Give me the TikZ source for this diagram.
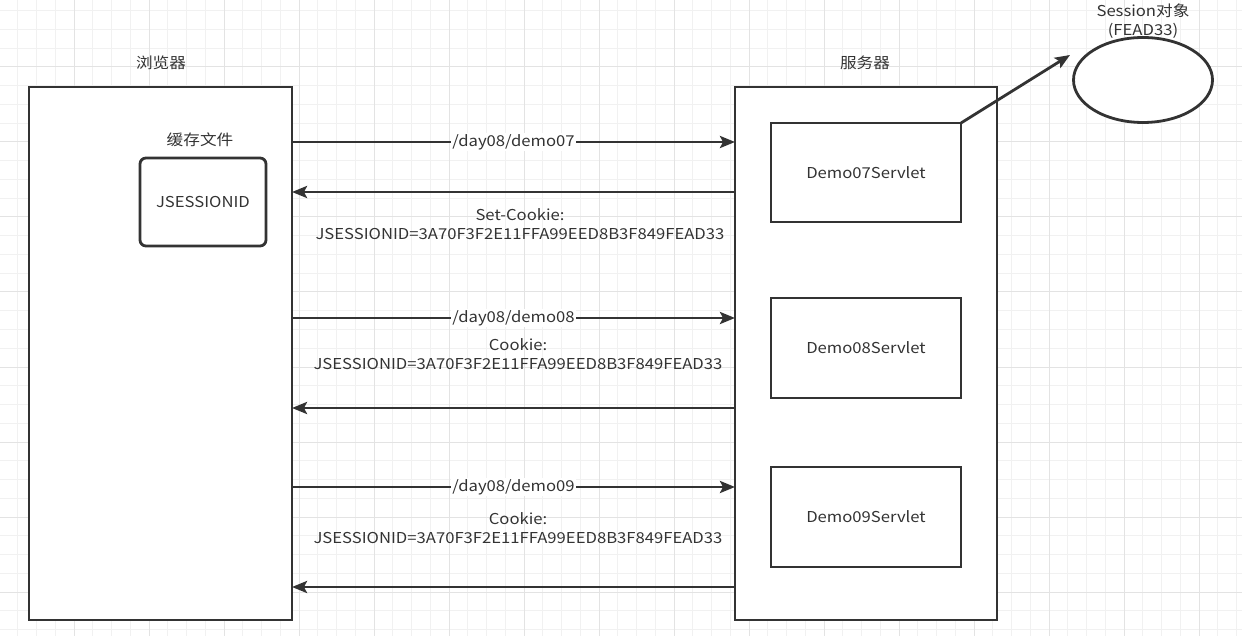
\documentclass[tikz,border=0pt]{standalone}
\usepackage{fontspec}
\newfontfamily\cjk[FakeStretch=1.11]{Noto Sans CJK SC}
\usetikzlibrary{arrows.meta,shapes.geometric}
\definecolor{ink}{HTML}{333333}
\definecolor{gminor}{HTML}{F1F1F1}
\definecolor{gmajor}{HTML}{E3E3E3}
\begin{document}
\begin{tikzpicture}[x=1pt,y=-1pt,
  box/.style={draw=ink,line width=2.8pt,fill=white,inner sep=0pt,outer sep=0pt},
  lbl/.style={font=\cjk\fontsize{15}{19}\selectfont,text=ink,inner sep=1pt,align=center},
  conn/.style={draw=ink,line width=2.8pt,-{Stealth[length=15pt,width=12pt,inset=3pt]}},
  onl/.style={lbl,fill=white,inner sep=1pt}
]
\useasboundingbox (0,0) rectangle (1242,636);
\fill[white] (0,0) rectangle (1242,636);
% grid
\foreach \k in {0,...,66} \draw[gminor,line width=1pt] ({-1+18.75*\k},0) -- ({-1+18.75*\k},636);
\foreach \k in {0,...,34} \draw[gminor,line width=1pt] (0,{-8+18.75*\k}) -- (1242,{-8+18.75*\k});
\foreach \k in {0,...,17} \draw[gmajor,line width=1pt] ({-1+75*\k},0) -- ({-1+75*\k},636);
\foreach \k in {0,...,9} \draw[gmajor,line width=1pt] (0,{-8+75*\k}) -- (1242,{-8+75*\k});

% main boxes
\node[box,minimum width=263,minimum height=533] (browser) at (160.5,353.5) {};
\node[box,minimum width=262,minimum height=533] (server) at (866,353.5) {};
\node[lbl] (browserlbl) at (161,63) {浏览器};
\node[lbl] (serverlbl) at (865,63) {服务器};
\node[lbl] (cachelbl) at (200,140) {缓存文件};
\node[box,rounded corners=6pt,minimum width=126,minimum height=88,lbl] (jsid) at (203,202) {JSESSIONID};

\node[box,minimum width=190,minimum height=99,lbl] (d7) at (866,172.5) {Demo07Servlet};
\node[box,minimum width=190,minimum height=100,lbl] (d8) at (866,348) {Demo08Servlet};
\node[box,minimum width=190,minimum height=100,lbl] (d9) at (866,517) {Demo09Servlet};

\node[ellipse,draw=ink,line width=2.8pt,fill=white,minimum width=139,minimum height=85,inner sep=0pt] (sess) at (1143,80) {};
\node[lbl] (sesslbl) at (1143,21) {Session对象\\(FEAD33)};
\coordinate (sesstip) at (1070,55);
\draw[conn] (d7.north east) -- (sesstip);

% requests / responses
\draw[conn] (browser.east |- 0,142) -- node[onl,midway] {/day08/demo07} (server.west |- 0,142);
\draw[conn] (server.west |- 0,192) -- (browser.east |- 0,192);
\node[lbl] (sc) at (520,224.5) {Set-Cookie:\\JSESSIONID=3A70F3F2E11FFA99EED8B3F849FEAD33};

\draw[conn] (browser.east |- 0,318) -- node[onl,midway] {/day08/demo08} (server.west |- 0,318);
\node[lbl] (c8) at (518,354) {Cookie:\\JSESSIONID=3A70F3F2E11FFA99EED8B3F849FEAD33};
\draw[conn] (server.west |- 0,408) -- (browser.east |- 0,408);

\draw[conn] (browser.east |- 0,487) -- node[onl,midway] {/day08/demo09} (server.west |- 0,487);
\node[lbl] (c9) at (518,528) {Cookie:\\JSESSIONID=3A70F3F2E11FFA99EED8B3F849FEAD33};
\draw[conn] (server.west |- 0,587) -- (browser.east |- 0,587);
\end{tikzpicture}
\end{document}
